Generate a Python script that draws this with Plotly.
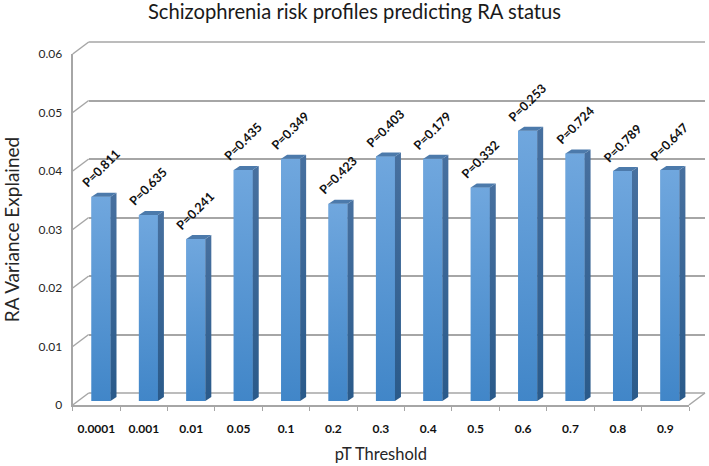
import numpy as np
import plotly.graph_objects as go

thresholds = ['0.0001', '0.001', '0.01', '0.05', '0.1', '0.2', '0.3', '0.4', '0.5', '0.6', '0.7', '0.8', '0.9']
variance = [0.0349, 0.0318, 0.0277, 0.0395, 0.0414, 0.0337, 0.0418, 0.0414, 0.0365, 0.0462, 0.0423, 0.0393, 0.0395]
p_labels = ['P=0.811', 'P=0.635', 'P=0.241', 'P=0.435', 'P=0.349', 'P=0.423', 'P=0.403',
            'P=0.179', 'P=0.332', 'P=0.253', 'P=0.724', 'P=0.789', 'P=0.647']
y_ticks = [0, 0.01, 0.02, 0.03, 0.04, 0.05, 0.06]
y_ticktext = ['0', '0.01', '0.02', '0.03', '0.04', '0.05', '0.06']

W, H = 709, 466
LEFT, RIGHT, TOP, BOTTOM = 72.7, 689.0, 54.0, 405.0
WALL_X, WALL_Y = 16, 12
GREY = '#a6a6a6'
FONT = 'Lato'
TEXT = '#262626'

cat_px = (RIGHT - LEFT) / len(thresholds)
val_px = (BOTTOM - TOP) / 0.06
bar_w = 19 / cat_px
depth_x, depth_y = 6 / cat_px, 4 / val_px


def dom_x(shift):
    return [(LEFT + shift) / W, (RIGHT + shift) / W]


def dom_y(shift):
    return [1 - (BOTTOM - shift) / H, 1 - (TOP - shift) / H]


def paper_y(value, shift=0):
    return 1 - (BOTTOM - shift - value * val_px) / H


pos = np.arange(len(thresholds))
x_range = [-0.5, len(thresholds) - 0.5]
y_range = [0, 0.06]

fig = go.Figure()

# invisible traces so that the front plane and the back wall exist
fig.add_trace(go.Scatter(x=pos, y=variance, mode='none', xaxis='x', yaxis='y',
                         showlegend=False, hoverinfo='skip'))
fig.add_trace(go.Scatter(x=pos, y=variance, mode='none', xaxis='x2', yaxis='y2',
                         showlegend=False, hoverinfo='skip'))

# front faces
fig.add_trace(go.Bar(x=pos, y=variance, width=bar_w, xaxis='x3', yaxis='y3',
                     marker=dict(color='#5795d3', line=dict(width=0)), showlegend=False))

for p, v in zip(pos, variance):
    l, r = p - bar_w / 2, p + bar_w / 2
    # shading of the front face
    fig.add_trace(go.Scatter(
        x=[l, r, r, l, l], y=[0, 0, v, v, 0], mode='lines', line=dict(width=0),
        fill='toself', xaxis='x3', yaxis='y3', showlegend=False, hoverinfo='skip',
        fillgradient=dict(type='vertical', start=0, stop=v,
                          colorscale=[[0, '#4186c8'], [1, '#70a7de']])))
    # side face
    fig.add_trace(go.Scatter(
        x=[r, r + depth_x, r + depth_x, r, r],
        y=[0, depth_y, v + depth_y, v, 0], mode='lines', line=dict(width=0),
        fill='toself', xaxis='x3', yaxis='y3', showlegend=False, hoverinfo='skip',
        fillgradient=dict(type='vertical', start=0, stop=v,
                          colorscale=[[0, '#2a5a8a'], [1, '#47709f']])))
    # top face
    fig.add_trace(go.Scatter(
        x=[l, r, r + depth_x, l + depth_x, l],
        y=[v, v, v + depth_y, v + depth_y, v], mode='lines', line=dict(width=0),
        fill='toself', fillcolor='#4c7aab', xaxis='x3', yaxis='y3',
        showlegend=False, hoverinfo='skip'))

# diagonal connectors, in paper coords because axis shapes get clipped at the plot edge
line_style = dict(color=GREY, width=1.5)
shapes = []
for t in y_ticks:
    shapes.append(dict(type='line', xref='paper', yref='paper',
                       x0=dom_x(0)[0], x1=dom_x(WALL_X)[0],
                       y0=paper_y(t), y1=paper_y(t, WALL_Y), line=line_style, layer='below'))
shapes.append(dict(type='line', xref='paper', yref='paper',
                   x0=dom_x(0)[1], x1=dom_x(WALL_X)[1],
                   y0=paper_y(0), y1=paper_y(0, WALL_Y), line=line_style, layer='below'))
# plotly drops gridlines at the ends of the range, so the first and last are drawn here
for t in (y_ticks[0], y_ticks[-1]):
    shapes.append(dict(type='line', xref='paper', yref='paper',
                       x0=dom_x(WALL_X)[0], x1=dom_x(WALL_X)[1],
                       y0=paper_y(t, WALL_Y), y1=paper_y(t, WALL_Y), line=line_style, layer='below'))

annotations = [dict(x=p, y=v, xref='x3', yref='y3', text=f'<b>{lab}</b>', showarrow=False,
                    textangle=-45, yshift=28, font=dict(family=FONT, size=12.5, color='#111111'))
               for p, v, lab in zip(pos, variance, p_labels)]

hidden = dict(visible=False)

fig.update_layout(
    width=W, height=H, margin=dict(l=0, r=0, t=0, b=0, autoexpand=False),
    paper_bgcolor='white', plot_bgcolor='rgba(0,0,0,0)', showlegend=False,
    font=dict(family=FONT, color=TEXT),
    title=dict(text='Schizophrenia risk profiles predicting RA status', x=0.5, xanchor='center',
               y=0.975, yanchor='middle', font=dict(family=FONT, size=20.2, color='#1a1a1a')),
    xaxis=dict(domain=dom_x(0), range=x_range, anchor='y',
               tickmode='array', tickvals=pos, ticktext=[f'<b>{t}</b>' for t in thresholds],
               ticks='', tickfont=dict(family=FONT, size=12, color='#111111'), ticklabelstandoff=12,
               showline=True, linecolor=GREY, linewidth=2, showgrid=False, zeroline=False,
               minor=dict(ticks='outside', ticklen=4, tickcolor=GREY, tickwidth=1, tick0=-0.5, dtick=1),
               title=dict(text='pT Threshold', font=dict(family=FONT, size=16.5, color=TEXT), standoff=13)),
    yaxis=dict(domain=dom_y(0), range=y_range, anchor='x',
               tickmode='array', tickvals=y_ticks, ticktext=y_ticktext, ticks='',
               tickfont=dict(family=FONT, size=12, color=TEXT), ticklabelstandoff=6,
               showline=True, linecolor=GREY, linewidth=2, showgrid=False, zeroline=False,
               title=dict(text='RA Variance Explained', font=dict(family=FONT, size=19, color=TEXT), standoff=16)),
    # back wall with the gridlines
    xaxis2=dict(domain=dom_x(WALL_X), range=x_range, anchor='y2', **hidden),
    yaxis2=dict(domain=dom_y(WALL_Y), range=y_range, anchor='x2', tickmode='array', tickvals=y_ticks,
                showticklabels=False, ticks='', showline=False, zeroline=False,
                showgrid=True, gridcolor=GREY, gridwidth=1.5),
    # plane the bars stand on
    xaxis3=dict(domain=dom_x(4.6), range=x_range, anchor='y3', **hidden),
    yaxis3=dict(domain=dom_y(4), range=y_range, anchor='x3', **hidden),
    shapes=shapes, annotations=annotations,
)

# the page's default body margin would push the chart 8px down and right
fig.write_html('out.html', config=dict(displayModeBar=False),
               post_script="document.body.style.margin='0';")
